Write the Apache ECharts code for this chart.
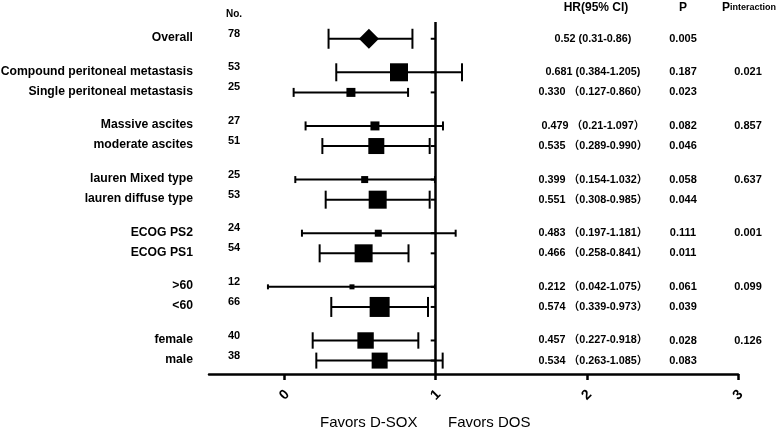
<!DOCTYPE html>
<html>
<head>
<meta charset="utf-8">
<script src="https://cdn.jsdelivr.net/npm/echarts@6/dist/echarts.min.js"></script>
<style>
html,body{margin:0;padding:0;background:#fff;}
#chart{width:778px;height:431px;}
</style>
</head>
<body>
<div id="chart"></div>
<script>
// ---- data ----
const labels = ['Overall','Compound peritoneal metastasis','Single peritoneal metastasis','Massive ascites','moderate ascites','lauren Mixed type','lauren diffuse type','ECOG PS2','ECOG PS1','>60','<60','female','male'];
const groupSizes = [1,2,2,2,2,2,2];
const nums = [78,53,25,27,51,25,53,24,54,12,66,40,38];
// values as drawn in the plot
const hrPlot = [0.558,0.757,0.439,0.598,0.607,0.530,0.616,0.620,0.523,0.446,0.629,0.536,0.629];
const loPlot = [0.291,0.342,0.060,0.139,0.250,0.071,0.272,0.115,0.232,-0.110,0.309,0.186,0.210];
const hiPlot = [0.846,1.174,0.817,1.048,0.960,0.995,0.960,1.132,0.820,0.995,0.949,0.885,1.046];
// relative weights (marker / cap scale)
const weights = [1.0,0.9,0.45,0.45,0.8,0.35,0.9,0.35,0.9,0.25,1.0,0.82,0.8];
const hrText = ['0.52 (0.31-0.86)','0.681 (0.384-1.205)','0.330 （0.127-0.860）','0.479 （0.21-1.097）','0.535 （0.289-0.990）','0.399 （0.154-1.032）','0.551 （0.308-0.985）','0.483 （0.197-1.181）','0.466 （0.258-0.841）','0.212 （0.042-1.075）','0.574 （0.339-0.973）','0.457 （0.227-0.918）','0.534 （0.263-1.085）'];
const pText = ['0.005','0.187','0.023','0.082','0.046','0.058','0.044','0.111','0.011','0.061','0.039','0.028','0.083'];
const pIntText = ['','0.021','','0.857','','0.637','','0.001','','0.099','','0.126',''];
const xTicks = [0,1,2,3];
const axisLabels = ['Favors D-SOX','Favors DOS'];

// ---- row slots (3 within group, 5 between groups) ----
const slots = [];
let s = 0;
groupSizes.forEach((g) => {
  for (let k = 0; k < g; k++) {
    slots.push(s);
    s += (k < g - 1) ? 3 : 5;
  }
});

const FONT = '"Liberation Sans", Arial, "Noto Sans CJK SC", sans-serif';
const MAX_MARK = 20;
const data = labels.map((l, i) => [loPlot[i], hiPlot[i], hrPlot[i], slots[i], i]);

function renderItem(params, api) {
  const i = api.value(4);
  const y = api.value(3);
  const pLo = api.coord([api.value(0), y]);
  const pHi = api.coord([api.value(1), y]);
  const pHr = api.coord([api.value(2), y]);
  const pOne = api.coord([1, y]);
  const sz = MAX_MARK * weights[i];
  const h = sz / 2;
  const ls = {stroke: '#000', lineWidth: 2};
  const ch = [];
  ch.push({type: 'line', shape: {x1: pOne[0] - 5, y1: pOne[1], x2: pOne[0], y2: pOne[1]}, style: ls});
  ch.push({type: 'line', shape: {x1: pLo[0], y1: pLo[1], x2: pHi[0], y2: pHi[1]}, style: ls});
  ch.push({type: 'line', shape: {x1: pLo[0], y1: pLo[1] - h, x2: pLo[0], y2: pLo[1] + h}, style: ls});
  ch.push({type: 'line', shape: {x1: pHi[0], y1: pHi[1] - h, x2: pHi[0], y2: pHi[1] + h}, style: ls});
  if (i === 0) {
    ch.push({type: 'polygon', shape: {points: [[pHr[0] - h, pHr[1]], [pHr[0], pHr[1] - h], [pHr[0] + h, pHr[1]], [pHr[0], pHr[1] + h]]}, style: {fill: '#000'}});
  } else {
    ch.push({type: 'rect', shape: {x: pHr[0] - h, y: pHr[1] - h, width: sz, height: sz}, style: {fill: '#000'}});
  }
  const ty = pHr[1];
  ch.push({type: 'text', style: {text: labels[i], x: 193, y: ty - 1, align: 'right', verticalAlign: 'middle', fill: '#000', font: 'bold 12.2px ' + FONT}});
  ch.push({type: 'text', style: {text: String(nums[i]), x: 234, y: ty - 5, align: 'center', verticalAlign: 'middle', fill: '#000', font: 'bold 11px ' + FONT}});
  ch.push({type: 'text', style: {text: hrText[i], x: 593, y: ty, align: 'center', verticalAlign: 'middle', fill: '#000', font: 'bold 10.8px ' + FONT}});
  ch.push({type: 'text', style: {text: pText[i], x: 683, y: ty, align: 'center', verticalAlign: 'middle', fill: '#000', font: 'bold 11px ' + FONT}});
  if (pIntText[i]) {
    ch.push({type: 'text', style: {text: pIntText[i], x: 748, y: ty, align: 'center', verticalAlign: 'middle', fill: '#000', font: 'bold 11px ' + FONT}});
  }
  return {type: 'group', children: ch};
}

const chart = echarts.init(document.getElementById('chart'), null, {renderer: 'canvas'});
chart.setOption({
  animation: false,
  backgroundColor: '#fff',
  grid: {left: 209, right: 40, top: 22, bottom: 57, containLabel: false},
  xAxis: {
    type: 'value', min: -0.5, max: 3,
    splitLine: {show: false},
    axisLine: {show: true, onZero: false, lineStyle: {color: '#000', width: 2.5}},
    axisTick: {show: true, customValues: xTicks, length: 6, lineStyle: {color: '#000', width: 2.5}},
    axisLabel: {show: true, customValues: xTicks, rotate: 45, margin: 21, align: 'center', verticalAlign: 'middle', color: '#000', fontWeight: 'bold', fontSize: 14, fontFamily: FONT}
  },
  yAxis: {
    type: 'value', min: -2.5, max: 50, inverse: true, show: false
  },
  graphic: [
    {type: 'text', left: 226, top: 9, style: {text: 'No.', fill: '#000', font: 'bold 10px ' + FONT}},
    {type: 'text', x: 596, y: 8, style: {text: 'HR(95% CI)', align: 'center', verticalAlign: 'middle', fill: '#000', font: 'bold 12px ' + FONT}},
    {type: 'text', x: 683, y: 8, style: {text: 'P', align: 'center', verticalAlign: 'middle', fill: '#000', font: 'bold 12px ' + FONT}},
    {type: 'text', x: 722, y: 2, style: {text: '{a|P}{b|interaction}', rich: {a: {fontSize: 12, fontWeight: 'bold', fontFamily: FONT, color: '#000'}, b: {fontSize: 9, fontWeight: 'bold', fontFamily: FONT, color: '#000'}}}},
    {type: 'text', x: 320, y: 423, style: {text: axisLabels[0], verticalAlign: 'middle', fill: '#000', font: '15px ' + FONT}},
    {type: 'text', x: 448, y: 423, style: {text: axisLabels[1], verticalAlign: 'middle', fill: '#000', font: '15px ' + FONT}}
  ],
  series: [
    {
      type: 'custom',
      renderItem: renderItem,
      data: data,
      encode: {x: [0, 1, 2], y: 3},
      clip: false,
      markLine: {
        silent: true, symbol: 'none', label: {show: false},
        lineStyle: {color: '#000', width: 2.5, type: 'solid'},
        data: [{xAxis: 1}]
      }
    }
  ]
});
</script>
</body>
</html>
